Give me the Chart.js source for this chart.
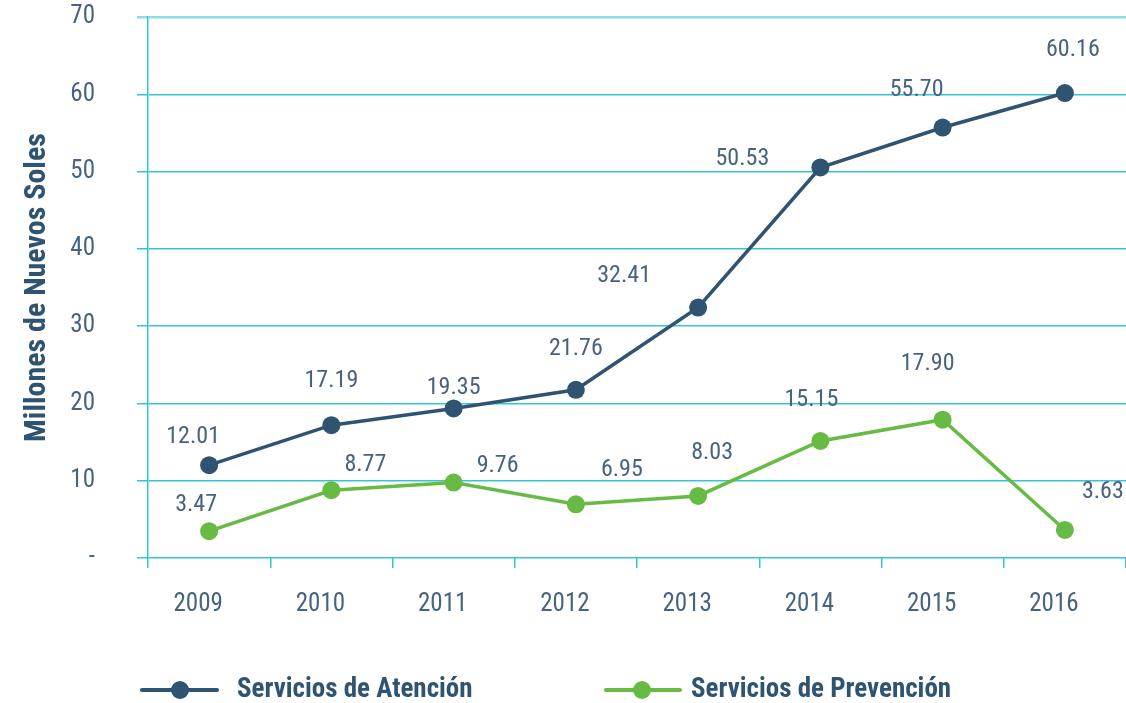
<!DOCTYPE html>
<html>
<head>
<meta charset="utf-8">
<script src="https://cdn.jsdelivr.net/npm/chart.js@4"></script>
<style>
  html, body { margin: 0; padding: 0; background: #fff; }
  #wrap { width: 1126px; height: 703px; position: relative; }
</style>
</head>
<body>
<div id="wrap"><canvas id="chart" width="1126" height="703"></canvas></div>
<script>
// data
const years = ['2009', '2010', '2011', '2012', '2013', '2014', '2015', '2016'];
const atencion = [12.01, 17.19, 19.35, 21.76, 32.41, 50.53, 55.70, 60.16];
const prevencion = [3.47, 8.77, 9.76, 6.95, 8.03, 15.15, 17.90, 3.63];
const seriesNames = ['Servicios de Atención', 'Servicios de Prevención'];
const yTicks = [0, 10, 20, 30, 40, 50, 60, 70];

// label offsets from each point (dx, dy)
const atencionOffsets = [[-16, -28], [0, -44], [0, -20], [0, -41], [-74, -32], [-78, -8], [-26, -38], [8, -43]];
const prevencionOffsets = [[-13, -26], [34, -25], [44, -17], [46, -34], [14, -43], [-9, -41], [-15, -56], [38, -38]];

const FONT = '"Roboto Condensed", "Liberation Sans Narrow", "DejaVu Sans Condensed", sans-serif';
const TEXT = '#48637f';
const DARK = '#2f5472';
const GREEN = '#67bb45';
const GRID = '#33c5d5';

// value labels next to the points
const valueLabels = {
  id: 'valueLabels',
  afterDatasetsDraw(chart) {
    const ctx = chart.ctx;
    const offs = [atencionOffsets, prevencionOffsets];
    ctx.save();
    ctx.font = '24px ' + FONT;
    ctx.fillStyle = TEXT;
    ctx.textAlign = 'center';
    ctx.textBaseline = 'middle';
    chart.data.datasets.forEach((ds, i) => {
      chart.getDatasetMeta(i).data.forEach((pt, j) => {
        const o = offs[i][j];
        ctx.fillText(ds.data[j].toFixed(2), pt.x + o[0], pt.y + o[1]);
      });
    });
    ctx.restore();
  }
};

// legend under the axis
const bottomLegend = {
  id: 'bottomLegend',
  afterDraw(chart) {
    const ctx = chart.ctx;
    const items = [
      { color: DARK, x0: 142, x1: 217, cx: 180, tx: 237 },
      { color: GREEN, x0: 606, x1: 680, cx: 642, tx: 691 }
    ];
    const y = 690;
    ctx.save();
    items.forEach((it, i) => {
      ctx.strokeStyle = it.color;
      ctx.lineWidth = 4;
      ctx.lineCap = 'round';
      ctx.beginPath();
      ctx.moveTo(it.x0, y);
      ctx.lineTo(it.x1, y);
      ctx.stroke();
      ctx.fillStyle = it.color;
      ctx.beginPath();
      ctx.arc(it.cx, y, 9, 0, Math.PI * 2);
      ctx.fill();
      ctx.fillStyle = DARK;
      ctx.font = 'bold 27px ' + FONT;
      ctx.textAlign = 'left';
      ctx.textBaseline = 'middle';
      ctx.fillText(seriesNames[i], it.tx, y);
    });
    ctx.restore();
  }
};

const ctx = document.getElementById('chart').getContext('2d');
new Chart(ctx, {
  type: 'line',
  data: {
    labels: years,
    datasets: [
      {
        label: seriesNames[0],
        data: atencion,
        borderColor: DARK,
        backgroundColor: DARK,
        borderWidth: 3.5,
        pointRadius: 9,
        pointHoverRadius: 9,
        pointBorderWidth: 0,
        tension: 0
      },
      {
        label: seriesNames[1],
        data: prevencion,
        borderColor: GREEN,
        backgroundColor: GREEN,
        borderWidth: 3.5,
        pointRadius: 9,
        pointHoverRadius: 9,
        pointBorderWidth: 0,
        tension: 0
      }
    ]
  },
  options: {
    responsive: false,
    animation: false,
    layout: { padding: { top: 17, right: 0, bottom: 0, left: 19 }, autoPadding: false },
    plugins: {
      legend: { display: false },
      tooltip: { enabled: false }
    },
    scales: {
      x: {
        offset: true,
        afterFit(scale) { scale.height = 145; },
        grid: {
          offset: true,
          drawOnChartArea: false,
          drawTicks: true,
          tickLength: 10,
          color: GRID,
          lineWidth: 1.5
        },
        border: { display: false },
        ticks: {
          color: TEXT,
          font: { family: FONT, size: 25 },
          padding: 22,
          labelOffset: -11,
          maxRotation: 0
        }
      },
      y: {
        min: 0,
        max: 70,
        afterFit(scale) {
          scale.width = 129;
          scale.paddingTop = 0;
          scale.paddingBottom = 0;
        },
        afterBuildTicks(scale) { scale.ticks = yTicks.map(v => ({ value: v })); },
        title: {
          display: true,
          text: 'Millones de Nuevos Soles',
          color: DARK,
          font: { family: FONT, size: 30, weight: 'bold' },
          padding: { top: 0, bottom: 0 }
        },
        grid: {
          color: ctx => ctx.tick && ctx.tick.value === 70 ? '#8ddde6' : GRID,
          lineWidth: ctx => ctx.tick && ctx.tick.value === 70 ? 2.5 : 1.5,
          tickLength: 11
        },
        border: { display: true, color: GRID, width: 1.5 },
        ticks: {
          color: TEXT,
          font: { family: FONT, size: 25 },
          padding: 42,
          callback: v => v === 0 ? '-' : String(v)
        }
      }
    }
  },
  plugins: [valueLabels, bottomLegend]
});
</script>
</body>
</html>
